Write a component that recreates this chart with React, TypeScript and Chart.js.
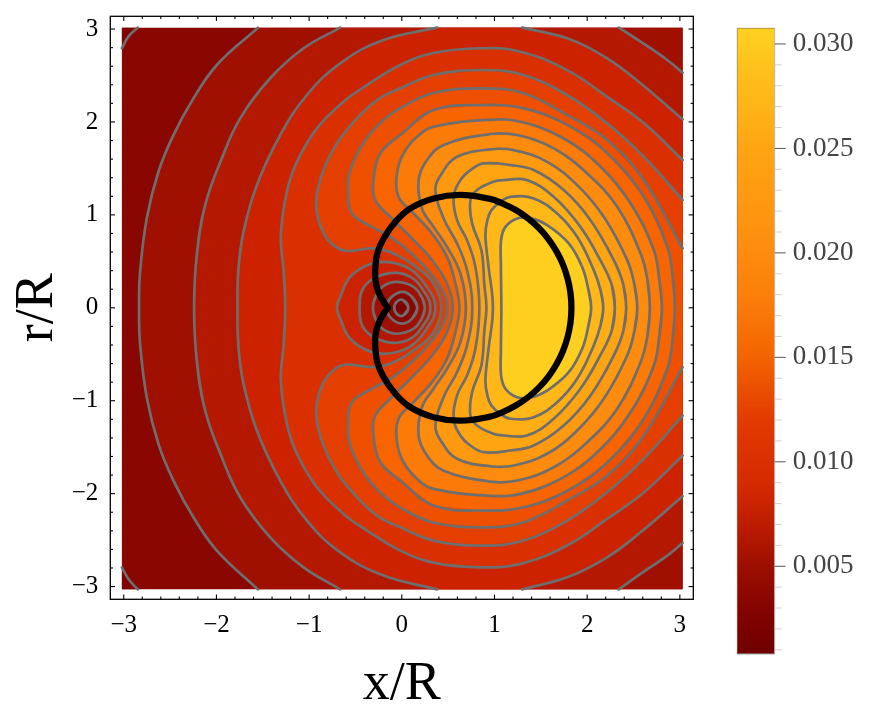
import React, { useEffect, useRef } from 'react';
import { Chart, registerables } from 'chart.js';

Chart.register(...registerables);

type Pt = number[];

// plot limits and the edge of the coloured region, in x/R and r/R
const xMin = -3.145, xMax = 3.145, yMin = -3.137, yMax = 3.137;
const dataLeft = -3.02, dataRight = 3.03, dataTop = 3.015, dataBottom = -3.03;

const majorTicks = [-3, -2, -1, 0, 1, 2, 3];
const minorTicks = [-2.8, -2.6, -2.4, -2.2, -1.8, -1.6, -1.4, -1.2, -0.8, -0.6, -0.4, -0.2, 0.2, 0.4, 0.6, 0.8, 1.2, 1.4, 1.6, 1.8, 2.2, 2.4, 2.6, 2.8];

// colour of each band, lowest first
const bandColors = ['#7f0200', '#8a0600', '#a01000', '#b51800', '#cc2200', '#da3000', '#e53f00', '#ef5000', '#f86400', '#fb7a08', '#fd8c0e', '#ff9a10', '#ffa512', '#ffaf15', '#ffb818', '#ffcf1f'];

// contours, upper half only (the picture is symmetric about r = 0)
const cornerA: Pt[] = [[-2.849, 3.015], [-2.95, 2.918], [-3.02, 2.793]];
const contourB: Pt[] = [[-2.835, 0], [-2.824, 0.387], [-2.752, 0.962], [-2.626, 1.464], [-2.464, 1.859], [-2.248, 2.254], [-1.996, 2.613], [-1.553, 3.015]];
const contourC: Pt[] = [[-2.241, 0], [-2.212, 0.567], [-2.122, 1.105], [-1.942, 1.608], [-1.744, 2.039], [-1.42, 2.47], [-1.06, 2.793], [-0.664, 3.015]];
const contourCRight: Pt[] = [[2.341, 3.015], [2.576, 2.864], [2.864, 2.667], [3.03, 2.53]];
const contourD: Pt[] = [[-1.773, 0], [-1.762, 0.423], [-1.708, 0.817], [-1.564, 1.32], [-1.312, 1.859], [-1.024, 2.29], [-0.664, 2.631], [-0.197, 2.882], [0.38, 3.015]];
const contourDRight: Pt[] = [[1.298, 3.015], [1.784, 2.9], [2.216, 2.685], [2.576, 2.416], [3.03, 2.028]];
const contourE: Pt[] = [[-1.258, 0], [-1.274, 0.383], [-1.305, 0.782], [-1.24, 1.248], [-1.132, 1.571], [-0.916, 1.931], [-0.629, 2.218], [-0.376, 2.397], [-0.016, 2.613], [0.34, 2.742], [0.848, 2.793], [1.28, 2.756], [1.784, 2.558], [2.216, 2.271], [2.611, 1.988], [3.03, 1.59]];
const contourF: Pt[] = [[0.427, 0], [0.34, 0.265], [0.127, 0.459], [-0.089, 0.585], [-0.305, 0.639], [-0.61, 0.613], [-0.754, 0.685], [-0.844, 0.8], [-0.916, 1.016], [-0.916, 1.231], [-0.844, 1.482], [-0.7, 1.77], [-0.502, 2.02], [-0.268, 2.236], [-0.016, 2.362], [0.343, 2.505], [0.883, 2.559], [1.315, 2.505], [1.784, 2.29], [2.216, 1.985], [2.611, 1.625], [3.03, 1.159]];
const contourG: Pt[] = [[0.491, 0], [0.47, 0.125], [0.343, 0.333], [0.127, 0.566], [-0.124, 0.764], [-0.322, 0.871], [-0.538, 1.016], [-0.581, 1.267], [-0.556, 1.482], [-0.394, 1.805], [-0.197, 2.02], [-0.016, 2.15], [0.34, 2.311], [0.883, 2.362], [1.315, 2.308], [1.784, 2.074], [2.216, 1.805], [2.611, 1.374], [3.03, 0.639]];
const contourH: Pt[] = [[0.551, 0], [0.488, 0.262], [0.326, 0.513], [0.092, 0.764], [-0.106, 0.962], [-0.286, 1.159], [-0.305, 1.374], [-0.232, 1.662], [-0.016, 1.859], [0.343, 2.128], [0.883, 2.182], [1.315, 2.146], [1.784, 1.969], [2.216, 1.664], [2.611, 1.194], [2.864, 0.656], [2.921, 0.351], [2.946, 0]];
const contourI: Pt[] = [[0.621, 0], [0.578, 0.262], [0.488, 0.548], [0.326, 0.8], [0.127, 1.016], [-0.035, 1.194], [-0.052, 1.446], [0.019, 1.662], [0.164, 1.841], [0.343, 1.949], [0.956, 2.023], [1.28, 2.002], [1.712, 1.841], [2.108, 1.554], [2.468, 1.123], [2.719, 0.62], [2.779, 0.297], [2.806, 0]];
const contourJ: Pt[] = [[0.691, 0], [0.632, 0.369], [0.488, 0.656], [0.343, 0.871], [0.218, 1.069], [0.181, 1.374], [0.272, 1.59], [0.451, 1.753], [0.956, 1.87], [1.244, 1.859], [1.639, 1.716], [2.0, 1.446], [2.324, 1.087], [2.576, 0.585], [2.651, 0.297], [2.676, 0]];
const contourK: Pt[] = [[0.761, 0], [0.704, 0.405], [0.596, 0.693], [0.451, 0.962], [0.362, 1.267], [0.434, 1.45], [0.596, 1.625], [0.956, 1.705], [1.207, 1.697], [1.568, 1.571], [1.892, 1.32], [2.179, 0.979], [2.432, 0.513], [2.511, 0.243], [2.54, 0]];
const contourL: Pt[] = [[0.837, 0], [0.794, 0.44], [0.704, 0.728], [0.596, 0.943], [0.559, 1.194], [0.632, 1.374], [0.74, 1.482], [0.883, 1.554], [1.172, 1.536], [1.423, 1.482], [1.747, 1.267], [2.036, 0.943], [2.287, 0.513], [2.392, 0.243], [2.421, 0]];
const contourM: Pt[] = [[0.913, 0], [0.891, 0.243], [0.859, 0.62], [0.758, 0.911], [0.74, 1.159], [0.812, 1.267], [0.988, 1.356], [1.099, 1.374], [1.352, 1.374], [1.639, 1.194], [1.927, 0.871], [2.141, 0.513], [2.266, 0.243], [2.298, 0]];
const contourN: Pt[] = [[0.983, 0], [0.934, 0.459], [0.902, 0.782], [0.923, 0.943], [0.967, 1.051], [1.064, 1.141], [1.172, 1.194], [1.423, 1.177], [1.676, 1.016], [1.892, 0.764], [2.071, 0.405], [2.144, 0.19], [2.173, 0]];
const contourO: Pt[] = [[1.074, 0], [1.069, 0.477], [1.071, 0.728], [1.118, 0.871], [1.244, 0.962], [1.388, 0.965], [1.568, 0.89], [1.801, 0.693], [1.946, 0.44], [2.014, 0.19], [2.043, 0]];

// closed rings round the origin
const ringE: Pt[] = [[-0.7, 0], [-0.664, 0.117], [-0.556, 0.333], [-0.322, 0.477], [-0.089, 0.484], [0.127, 0.39], [0.272, 0.22], [0.345, 0.1], [0.362, 0]];
const ringD: Pt[] = [[-0.456, 0], [-0.416, 0.211], [-0.268, 0.333], [-0.052, 0.376], [0.127, 0.31], [0.25, 0.16], [0.3, 0.07], [0.308, 0]];
const ringC: Pt[] = [[-0.311, 0], [-0.275, 0.136], [-0.2, 0.233], [-0.052, 0.279], [0.127, 0.225], [0.221, 0.103], [0.248, 0]];
const ringB: Pt[] = [[-0.16, 0], [-0.124, 0.103], [0.002, 0.171], [0.11, 0.117], [0.167, 0]];
const ringA: Pt[] = [[-0.081, 0], [-0.049, 0.071], [0.016, 0.082], [0.07, 0]];

// black outline, from the cusp round the top to the right-hand point
const outline: Pt[] = [[-0.15, 0], [-0.196, 0.064], [-0.26, 0.19], [-0.286, 0.315], [-0.286, 0.426], [-0.264, 0.588], [-0.196, 0.746], [-0.07, 0.925], [0.092, 1.07], [0.343, 1.177], [0.63, 1.215], [0.941, 1.174], [1.089, 1.122], [1.23, 1.052], [1.36, 0.964], [1.479, 0.859], [1.582, 0.74], [1.669, 0.607], [1.739, 0.465], [1.789, 0.314], [1.82, 0.159], [1.83, 0]];

// colour bar
const barMin = 0.0008;
const barMax = 0.03075;
const barStopValues = [0.0008, 0.003, 0.005, 0.007, 0.009, 0.012, 0.015, 0.018, 0.02, 0.025, 0.03075];
const barStopColors = ['#6e0000', '#850400', '#9c0f00', '#bd1c00', '#d62a00', '#e23a00', '#f36400', '#fb7f0a', '#fd8c0e', '#ffa512', '#ffd020'];
const barTicks = [0.001, 0.002, 0.003, 0.004, 0.005, 0.006, 0.007, 0.008, 0.009, 0.01, 0.011, 0.012, 0.013, 0.014, 0.015, 0.016, 0.017, 0.018, 0.019, 0.02, 0.021, 0.022, 0.023, 0.024, 0.025, 0.026, 0.027, 0.028, 0.029, 0.03];
const barLabels = [0.005, 0.01, 0.015, 0.02, 0.025, 0.03];

const flip = ([x, y]: Pt): Pt => [x, y === dataTop ? dataBottom : -y];
const mirrored = (pts: Pt[]) => pts.map(flip).reverse();
// lower half reversed, then the upper half
const both = (pts: Pt[]) => [...mirrored(pts).slice(0, -1), ...pts];
const toXY = (pts: Pt[]) => pts.map(([x, y]) => ({ x, y }));

// contours that close on r = 0 overlap by one point so the join stays smooth
const strokePath = (pts: Pt[]) => {
  const last = pts[pts.length - 1];
  if (last[1] !== 0) return both(pts);
  const before = pts[pts.length - 2];
  return [before, ...both(pts), flip(before)];
};

const fillSet = (pts: Pt[], color: string) => ({
  data: toXY(pts),
  showLine: true,
  pointRadius: 0,
  borderWidth: 0,
  borderColor: color,
  backgroundColor: color,
  fill: 'shape',
  tension: 0,
});

const lineSet = (pts: Pt[]) => ({
  data: toXY(pts),
  showLine: true,
  pointRadius: 0,
  borderWidth: 2.7,
  borderColor: '#6e6e6e',
  borderCapStyle: 'round',
  borderJoinStyle: 'round',
  fill: false,
  tension: 0.4,
});

const buildDatasets = () => {
  const closedOnes = [contourE, contourF, contourG, contourH, contourI, contourJ, contourK, contourL, contourM, contourN, contourO];
  const rings = [ringE, ringD, ringC, ringB, ringA];
  const fills = [
    fillSet([[dataLeft, dataTop], [dataRight, dataTop], [dataRight, dataBottom], [dataLeft, dataBottom]], bandColors[1]),
    fillSet([...cornerA, [dataLeft, dataTop]], bandColors[0]),
    fillSet([...cornerA.map(flip), [dataLeft, dataBottom]], bandColors[0]),
    fillSet([...both(contourB), [dataRight, dataTop], [dataRight, dataBottom]], bandColors[2]),
    fillSet([...both(contourC), ...contourCRight, ...mirrored(contourCRight)], bandColors[3]),
    fillSet([...both(contourD), ...contourDRight, ...mirrored(contourDRight)], bandColors[4]),
    ...closedOnes.map((c, i) => fillSet(both(c), bandColors[5 + i])),
    ...rings.map((c, i) => fillSet(both(c), bandColors[4 - i])),
  ];
  const lines = [
    lineSet(cornerA),
    lineSet(cornerA.map(flip)),
    lineSet(contourCRight),
    lineSet(contourCRight.map(flip)),
    lineSet(contourDRight),
    lineSet(contourDRight.map(flip)),
    ...[contourB, contourC, contourD, ...closedOnes, ...rings].map((c) => lineSet(strokePath(c))),
  ];
  const black = {
    data: toXY([...outline, ...mirrored(outline).slice(1)]),
    showLine: true,
    pointRadius: 0,
    borderWidth: 6.3,
    borderColor: '#000000',
    borderCapStyle: 'round',
    borderJoinStyle: 'round',
    fill: false,
    tension: 0.4,
  };
  // chart.js paints the first dataset last
  return [...fills, ...lines, black].reverse();
};

const framePlugin = {
  id: 'frame',
  afterDatasetsDraw(chart: any) {
    const { ctx, chartArea, scales } = chart;
    const { left, right, top, bottom } = chartArea;
    ctx.save();
    ctx.strokeStyle = '#000000';
    ctx.lineWidth = 1.3;
    ctx.strokeRect(left, top, right - left, bottom - top);
    const mark = (x0: number, y0: number, x1: number, y1: number) => {
      ctx.beginPath();
      ctx.moveTo(x0, y0);
      ctx.lineTo(x1, y1);
      ctx.stroke();
    };
    const drawTicks = (vals: number[], len: number) => {
      vals.forEach((v) => {
        const px = scales.x.getPixelForValue(v);
        const py = scales.y.getPixelForValue(v);
        mark(px, top, px, top + len);
        mark(px, bottom, px, bottom - len);
        mark(left, py, left + len, py);
        mark(right, py, right - len, py);
      });
    };
    ctx.lineWidth = 1.1;
    drawTicks(majorTicks, 4.7);
    drawTicks(minorTicks, 2.7);
    ctx.restore();
  },
};

const barPlugin = {
  id: 'barFrame',
  afterDatasetsDraw(chart: any) {
    const { ctx, chartArea, scales } = chart;
    const { left, right, top, bottom } = chartArea;
    const mark = (x0: number, y0: number, x1: number, y1: number, color: string) => {
      ctx.strokeStyle = color;
      ctx.beginPath();
      ctx.moveTo(x0, y0);
      ctx.lineTo(x1, y1);
      ctx.stroke();
    };
    ctx.save();
    ctx.lineWidth = 1;
    mark(left, top, right, top, 'rgba(90,60,0,0.45)');
    mark(left, top, left, bottom, 'rgba(70,40,0,0.4)');
    mark(right, top, right, bottom, '#b8b8b8');
    mark(left, bottom, right, bottom, '#a8a8a8');
    barTicks.forEach((v) => {
      const py = scales.y.getPixelForValue(v);
      if (barLabels.includes(v)) mark(right, py, right + 11, py, '#555555');
      else mark(right, py, right + 7, py, '#cfcfcf');
    });
    ctx.restore();
  },
};

const tickFont = { family: '"Liberation Serif"', size: 25 };
const titleFont = { family: '"Liberation Serif"', size: 54 };
const minusLabel = (v: any) => String(v).replace('-', '\u2212');

// keep the label sizes from pushing the plot area inwards
const noPadding = (s: any) => {
  s.paddingTop = 0;
  s.paddingBottom = 0;
  s.paddingLeft = 0;
  s.paddingRight = 0;
};

const App: React.FC = () => {
  const plotRef = useRef<HTMLCanvasElement>(null);
  const barRef = useRef<HTMLCanvasElement>(null);

  useEffect(() => {
    if (!plotRef.current || !barRef.current) return;

    const plot = new Chart(plotRef.current, {
      type: 'scatter',
      data: { datasets: buildDatasets() as any },
      plugins: [framePlugin],
      options: {
        animation: false,
        responsive: false,
        layout: { autoPadding: false, padding: { left: 0, top: 16.3, right: 178.7, bottom: 0 } },
        plugins: { legend: { display: false }, tooltip: { enabled: false } },
        scales: {
          x: {
            type: 'linear',
            min: xMin,
            max: xMax,
            afterBuildTicks: (s: any) => { s.ticks = majorTicks.map((value) => ({ value })); },
            afterFit: (s: any) => { s.height = 124.7; noPadding(s); },
            grid: { display: false, drawTicks: false },
            border: { display: false },
            ticks: { color: '#000000', font: tickFont, padding: 11, maxRotation: 0, autoSkip: false, callback: minusLabel },
            title: { display: true, text: 'x/R', color: '#000000', font: titleFont, padding: { top: 0, bottom: 7 } },
          },
          y: {
            type: 'linear',
            min: yMin,
            max: yMax,
            afterBuildTicks: (s: any) => { s.ticks = majorTicks.map((value) => ({ value })); },
            afterFit: (s: any) => { s.width = 110.3; noPadding(s); },
            grid: { display: false, drawTicks: false },
            border: { display: false },
            ticks: { color: '#000000', font: tickFont, padding: 12, autoSkip: false, callback: minusLabel },
            title: { display: true, text: 'r/R', color: '#000000', font: titleFont, padding: { top: 5, bottom: 0 } },
          },
        },
      } as any,
    });

    const bar = new Chart(barRef.current, {
      type: 'bar',
      data: {
        labels: [''],
        datasets: [
          {
            data: [[barMin, barMax]],
            barPercentage: 1,
            categoryPercentage: 1,
            backgroundColor: (c: any) => {
              const { ctx, chartArea, scales } = c.chart;
              if (!chartArea) return '#ff8c10';
              const g = ctx.createLinearGradient(0, scales.y.getPixelForValue(barMin), 0, scales.y.getPixelForValue(barMax));
              barStopValues.forEach((v, i) => g.addColorStop((v - barMin) / (barMax - barMin), barStopColors[i]));
              return g;
            },
          },
        ] as any,
      },
      plugins: [barPlugin],
      options: {
        animation: false,
        responsive: false,
        layout: { autoPadding: false, padding: { left: 737.3, top: 28.3, right: 0, bottom: 70 } },
        plugins: { legend: { display: false }, tooltip: { enabled: false } },
        scales: {
          x: { display: false },
          y: {
            position: 'right',
            min: barMin,
            max: barMax,
            afterBuildTicks: (s: any) => { s.ticks = barTicks.map((value) => ({ value })); },
            afterFit: (s: any) => { s.width = 97.3; noPadding(s); },
            grid: { display: false, drawTicks: false },
            border: { display: false },
            ticks: {
              color: '#444444',
              font: { family: '"Liberation Serif"', size: 27 },
              padding: 18,
              autoSkip: false,
              callback: (v: any) => (barLabels.includes(v) ? Number(v).toFixed(3) : ''),
            },
          },
        },
      } as any,
    });

    return () => {
      plot.destroy();
      bar.destroy();
    };
  }, []);

  const layer: React.CSSProperties = { position: 'absolute', left: 0, top: 0 };
  return (
    <div style={{ position: 'absolute', left: 0, top: 0, width: 872, height: 724, background: '#ffffff' }}>
      <canvas ref={plotRef} width={872} height={724} style={layer} />
      <canvas ref={barRef} width={872} height={724} style={layer} />
    </div>
  );
};

export default App;
